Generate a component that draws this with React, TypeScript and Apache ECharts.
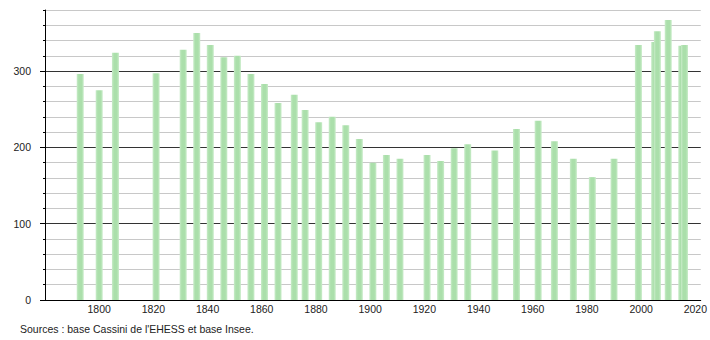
import React, { useEffect, useRef } from "react";
import * as echarts from "echarts";

const years = [
  1793, 1800, 1806, 1821, 1831, 1836, 1841, 1846, 1851, 1856, 1861, 1866, 1872,
  1876, 1881, 1886, 1891, 1896, 1901, 1906, 1911, 1921, 1926, 1931, 1936, 1946,
  1954, 1962, 1968, 1975, 1982, 1990, 1999, 2005, 2006, 2010, 2015, 2016,
];
const population = [
  296, 275, 324, 297, 328, 350, 334, 318, 320, 296, 283, 258, 269,
  249, 233, 240, 229, 211, 180, 190, 185, 190, 182, 199, 204, 196,
  224, 235, 208, 185, 161, 185, 334, 338, 352, 367, 333, 334,
];
const xTickLabels = [1800, 1820, 1840, 1860, 1880, 1900, 1920, 1940, 1960, 1980, 2000, 2020];
const yTickLabels = [0, 100, 200, 300];
const sourceText = "Sources : base Cassini de l'EHESS et base Insee.";

export default function App() {
  const ref = useRef<HTMLDivElement>(null);
  useEffect(() => {
    document.body.style.margin = "0";
    if (!ref.current) return;
    const chart = echarts.init(ref.current, null, { renderer: "svg" });
    const font = "'Liberation Sans', Arial, sans-serif";
    const fs = 10.5;
    const barColor = new echarts.graphic.LinearGradient(0, 0, 1, 0, [
      { offset: 0, color: "#c9ecc9" },
      { offset: 0.3, color: "#abdfab" },
      { offset: 0.7, color: "#abdfab" },
      { offset: 1, color: "#c9ecc9" },
    ]);
    chart.setOption({
      animation: false,
      backgroundColor: "#ffffff",
      textStyle: { fontFamily: font },
      grid: { left: 45, right: 9, top: 10, bottom: 40, containLabel: false },
      graphic: [
        {
          type: "text",
          left: 20,
          top: 323,
          style: { text: sourceText, fontSize: fs, fill: "#222", fontFamily: font },
        },
      ],
      xAxis: {
        type: "value",
        min: 1780,
        max: 2022,
        interval: 20,
        axisLine: { show: true, lineStyle: { color: "#000", width: 1 } },
        axisTick: { show: false },
        splitLine: { show: false },
        axisLabel: {
          customValues: xTickLabels,
          margin: 3,
          fontSize: fs,
          color: "#222",
          fontFamily: font,
          formatter: (v: number) => String(v),
        },
      },
      yAxis: [
        {
          type: "value",
          min: 0,
          max: 380,
          interval: 20,
          position: "left",
          axisLine: { show: true, lineStyle: { color: "#000", width: 1 } },
          axisTick: { show: true, length: 2, lineStyle: { color: "#000" } },
          axisLabel: { show: false },
          splitLine: { show: true, lineStyle: { color: "#c8c8c8", width: 1 } },
        },
        {
          type: "value",
          min: 0,
          max: 380,
          position: "left",
          axisLine: { show: false },
          axisTick: {
            show: true,
            length: 5,
            customValues: yTickLabels,
            lineStyle: { color: "#000" },
          },
          axisLabel: {
            customValues: yTickLabels,
            margin: 14,
            fontSize: fs,
            color: "#222",
            fontFamily: font,
          },
          splitLine: { show: true, lineStyle: { color: "#333", width: 1 } },
        },
      ],
      series: [
        {
          type: "bar",
          yAxisIndex: 0,
          barWidth: 7,
          data: years.map((y, i) => [y, population[i]]),
          itemStyle: { color: barColor },
          z: 5,
        },
      ],
    });
    return () => chart.dispose();
  }, []);
  return (
    <div
      ref={ref}
      style={{ position: "absolute", left: 0, top: 0, width: 710, height: 340 }}
    />
  );
}
